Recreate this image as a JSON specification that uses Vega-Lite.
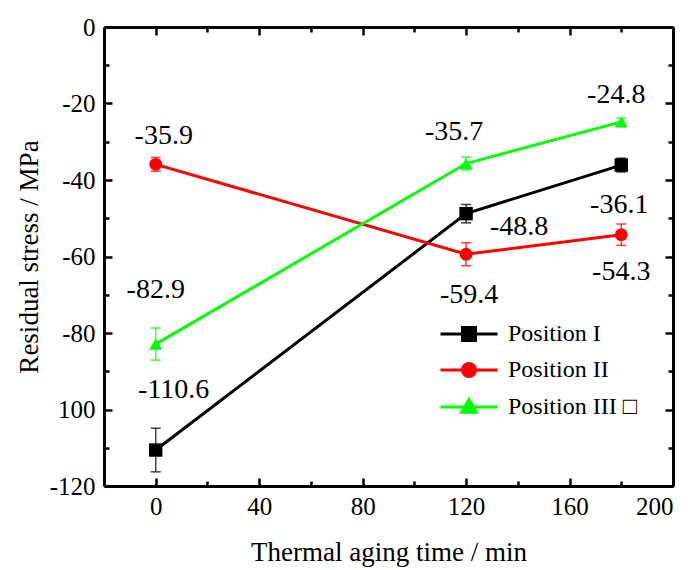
{
  "$schema": "https://vega.github.io/schema/vega-lite/v6.json",
  "autosize": "none",
  "width": 569,
  "height": 459,
  "padding": {"left": 104, "top": 27, "right": 23, "bottom": 84},
  "background": "white",
  "config": {
    "view": {"stroke": null},
    "font": "'Liberation Serif', 'DejaVu Serif', serif",
    "text": {"font": "'Liberation Serif', 'DejaVu Serif', serif"},
    "axis": {
      "grid": false,
      "domainColor": "black",
      "domainWidth": 3,
      "tickColor": "black",
      "tickWidth": 2.5,
      "labelFont": "'Liberation Serif', 'DejaVu Serif', serif",
      "labelFontSize": 25,
      "labelColor": "black",
      "titleFont": "'Liberation Serif', 'DejaVu Serif', serif",
      "titleFontSize": 27,
      "titleFontWeight": "normal",
      "titleColor": "black"
    }
  },
  "data": {
    "values": [
      {"series": "Position I", "t": 0, "stress": -110.6, "low": -116.3, "high": -104.9, "label": "-110.6"},
      {"series": "Position I", "t": 120, "stress": -48.8, "low": -51.2, "high": -46.4, "label": "-48.8"},
      {"series": "Position I", "t": 180, "stress": -36.1, "low": -37.9, "high": -34.3, "label": "-36.1"},
      {"series": "Position II", "t": 0, "stress": -35.9, "low": -37.7, "high": -34.1, "label": "-35.9"},
      {"series": "Position II", "t": 120, "stress": -59.4, "low": -62.4, "high": -56.4, "label": "-59.4"},
      {"series": "Position II", "t": 180, "stress": -54.3, "low": -57.1, "high": -51.5, "label": "-54.3"},
      {"series": "Position III", "t": 0, "stress": -82.9, "low": -87.1, "high": -78.7, "label": "-82.9"},
      {"series": "Position III", "t": 120, "stress": -35.7, "low": -37.4, "high": -34.0, "label": "-35.7"},
      {"series": "Position III", "t": 180, "stress": -24.8, "low": -25.8, "high": -23.8, "label": "-24.8"}
    ]
  },
  "encoding": {
    "x": {
      "field": "t", "type": "quantitative", "axis": null,
      "scale": {"domain": [-20, 200], "nice": false, "zero": false}
    },
    "y": {
      "field": "stress", "type": "quantitative", "axis": null,
      "scale": {"domain": [-120, 0], "nice": false, "zero": false}
    },
    "color": {"field": "series", "type": "nominal",
      "scale": {"domain": ["Position I", "Position II", "Position III"], "range": ["#000000", "#ff0000", "#00ff00"]}}
  },
  "layer": [
    {
      "mark": {"type": "rule", "strokeWidth": 1.5, "opacity": 0.75},
      "encoding": {
        "x": {
          "field": "t", "type": "quantitative",
          "axis": {
            "orient": "bottom",
            "values": [0, 20, 40, 60, 80, 100, 120, 140, 160, 180, 200],
            "labelExpr": "datum.value % 40 == 0 ? toString(datum.value) : ''",
            "tickSize": {"condition": {"test": "datum.value % 40 == 0", "value": -8}, "value": -5},
            "labelPadding": 16,
            "title": "Thermal aging time / min",
            "titlePadding": 20
          }
        },
        "y": {
          "field": "low", "type": "quantitative",
          "axis": {
            "orient": "left",
            "values": [-120, -110, -100, -90, -80, -70, -60, -50, -40, -30, -20, -10, 0],
            "labelExpr": "datum.value % 20 == 0 ? (datum.value == -100 ? '100' : toString(datum.value)) : ''",
            "tickSize": {"condition": {"test": "datum.value % 20 == 0", "value": -8}, "value": -5},
            "labelPadding": 17,
            "title": "Residual stress / MPa",
            "titlePadding": 6
          }
        },
        "y2": {"field": "high"}
      }
    },
    {
      "mark": {"type": "tick", "orient": "horizontal", "size": 10, "thickness": 1.5, "opacity": 0.75},
      "encoding": {
        "y": {
          "field": "low", "type": "quantitative",
          "axis": {
            "orient": "right",
            "values": [-120, -110, -100, -90, -80, -70, -60, -50, -40, -30, -20, -10, 0],
            "labels": false,
            "tickSize": {"condition": {"test": "datum.value % 20 == 0", "value": -8}, "value": -5},
            "title": null
          }
        },
        "x": {
          "field": "t", "type": "quantitative",
          "axis": {
            "orient": "top",
            "values": [0, 20, 40, 60, 80, 100, 120, 140, 160, 180, 200],
            "labels": false,
            "tickSize": {"condition": {"test": "datum.value % 40 == 0", "value": -8}, "value": -5},
            "title": null
          }
        }
      }
    },
    {
      "mark": {"type": "tick", "orient": "horizontal", "size": 10, "thickness": 1.5, "opacity": 0.75},
      "encoding": {
        "y": {"field": "high", "type": "quantitative"}
      }
    },
    {
      "mark": {"type": "line", "strokeWidth": 3},
      "encoding": {}
    },
    {
      "transform": [{"filter": "datum.series == 'Position I'"}],
      "mark": {"type": "point", "shape": "square", "filled": true, "size": 180, "opacity": 1},
      "encoding": {}
    },
    {
      "transform": [{"filter": "datum.series == 'Position II'"}],
      "mark": {"type": "point", "shape": "circle", "filled": true, "size": 165, "opacity": 1},
      "encoding": {}
    },
    {
      "transform": [{"filter": "datum.series == 'Position III'"}],
      "mark": {"type": "point", "shape": "triangle-up", "filled": true, "size": 165, "opacity": 1},
      "encoding": {}
    },
    {
      "transform": [{"filter": "datum.series == 'Position I' && datum.t == 0"}],
      "mark": {"type": "text", "fontSize": 28, "dx": 18, "dy": -60},
      "encoding": {"text": {"field": "label"}, "color": {"value": "black"}}
    },
    {
      "transform": [{"filter": "datum.series == 'Position I' && datum.t == 120"}],
      "mark": {"type": "text", "fontSize": 28, "dx": 53, "dy": 13},
      "encoding": {"text": {"field": "label"}, "color": {"value": "black"}}
    },
    {
      "transform": [{"filter": "datum.series == 'Position I' && datum.t == 180"}],
      "mark": {"type": "text", "fontSize": 28, "dx": -2, "dy": 40},
      "encoding": {"text": {"field": "label"}, "color": {"value": "black"}}
    },
    {
      "transform": [{"filter": "datum.series == 'Position II' && datum.t == 0"}],
      "mark": {"type": "text", "fontSize": 28, "dx": 8, "dy": -28},
      "encoding": {"text": {"field": "label"}, "color": {"value": "black"}}
    },
    {
      "transform": [{"filter": "datum.series == 'Position II' && datum.t == 120"}],
      "mark": {"type": "text", "fontSize": 28, "dx": 3, "dy": 41},
      "encoding": {"text": {"field": "label"}, "color": {"value": "black"}}
    },
    {
      "transform": [{"filter": "datum.series == 'Position II' && datum.t == 180"}],
      "mark": {"type": "text", "fontSize": 28, "dx": 0, "dy": 37},
      "encoding": {"text": {"field": "label"}, "color": {"value": "black"}}
    },
    {
      "transform": [{"filter": "datum.series == 'Position III' && datum.t == 0"}],
      "mark": {"type": "text", "fontSize": 28, "dx": 0, "dy": -54},
      "encoding": {"text": {"field": "label"}, "color": {"value": "black"}}
    },
    {
      "transform": [{"filter": "datum.series == 'Position III' && datum.t == 120"}],
      "mark": {"type": "text", "fontSize": 28, "dx": -12, "dy": -32},
      "encoding": {"text": {"field": "label"}, "color": {"value": "black"}}
    },
    {
      "transform": [{"filter": "datum.series == 'Position III' && datum.t == 180"}],
      "mark": {"type": "text", "fontSize": 28, "dx": -5, "dy": -27},
      "encoding": {"text": {"field": "label"}, "color": {"value": "black"}}
    },
    {
      "mark": {"type": "point", "filled": true, "opacity": 0},
      "encoding": {
        "color": {
          "field": "series", "type": "nominal",
          "legend": {
            "orient": "none", "legendX": 353, "legendY": 295,
            "title": null,
            "symbolSize": 400,
            "symbolStrokeWidth": 3,
            "symbolOpacity": 1,
            "labelFont": "'Liberation Serif', 'DejaVu Serif', serif",
            "labelFontSize": 24,
            "labelColor": "black",
            "labelOffset": 27,
            "labelLimit": 400,
            "rowPadding": 10,
            "labelExpr": "datum.label == 'Position III' ? 'Position III \u25a1' : datum.label",
            "encode": {
              "symbols": {
                "update": {
                  "shape": {"scale": "shape", "field": "value"},
                  "stroke": {"scale": "color", "field": "value"},
                  "fill": {"scale": "color", "field": "value"},
                  "opacity": {"value": 1},
                  "strokeWidth": {"value": 3}
                }
              }
            }
          }
        },
        "shape": {
          "field": "series", "type": "nominal",
          "scale": {
            "domain": ["Position I", "Position II", "Position III"],
            "range": [
              "M-2.85,0H2.85M-0.65,-0.65H0.65V0.65H-0.65Z",
              "M-2.85,0H2.85M0.65,0A0.65,0.65,0,1,1,-0.65,0A0.65,0.65,0,1,1,0.65,0Z",
              "M-2.85,0H2.85M0,-0.74L0.72,0.52L-0.72,0.52Z"
            ]
          },
          "legend": {
            "orient": "none", "legendX": 353, "legendY": 295,
            "title": null,
            "symbolSize": 400,
            "symbolStrokeWidth": 3,
            "symbolOpacity": 1,
            "labelFont": "'Liberation Serif', 'DejaVu Serif', serif",
            "labelFontSize": 24,
            "labelColor": "black",
            "labelOffset": 27,
            "labelLimit": 400,
            "rowPadding": 10,
            "labelExpr": "datum.label == 'Position III' ? 'Position III \u25a1' : datum.label"
          }
        }
      }
    }
  ]
}
